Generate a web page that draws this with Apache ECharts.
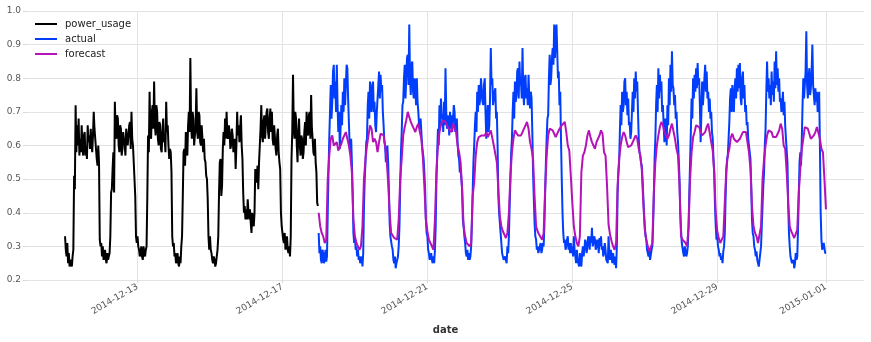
<!DOCTYPE html>
<html>
<head>
<meta charset="utf-8">
<script src="https://cdn.jsdelivr.net/npm/echarts@6/dist/echarts.min.js"></script>
<style>
  html, body { margin: 0; padding: 0; background: #fff; }
  #chart { width: 871px; height: 342px; }
</style>
</head>
<body>
<div id="chart"></div>
<script>
// Power usage: half-hourly history and actuals, hourly forecast.
const trainStart = '2014-12-11T00:00:00Z';
const testStart = '2014-12-18T00:00:00Z';

// 2014-12-11 .. 2014-12-17, half-hourly, one day per 4 lines
const powerUsage = [
  0.33,0.29, 0.27,0.31, 0.25,0.28, 0.24,0.26, 0.26,0.24, 0.27,0.29,
  0.51,0.47, 0.72,0.58, 0.66,0.60, 0.68,0.57, 0.62,0.58, 0.66,0.60,
  0.57,0.63, 0.64,0.57, 0.60,0.56, 0.66,0.61, 0.63,0.59, 0.65,0.61,
  0.58,0.63, 0.70,0.65, 0.62,0.59, 0.56,0.54, 0.60,0.55, 0.32,0.30,

  0.31,0.27, 0.30,0.26, 0.27,0.29, 0.26,0.25, 0.28,0.26, 0.26,0.28,
  0.33,0.46, 0.47,0.53, 0.58,0.46, 0.73,0.64, 0.62,0.69, 0.68,0.60,
  0.58,0.66, 0.65,0.57, 0.59,0.64, 0.64,0.60, 0.57,0.65, 0.65,0.60,
  0.60,0.66, 0.67,0.59, 0.70,0.62, 0.60,0.55, 0.55,0.45, 0.33,0.31,

  0.33,0.30, 0.29,0.27, 0.28,0.30, 0.27,0.26, 0.30,0.28, 0.27,0.29,
  0.30,0.45, 0.63,0.58, 0.76,0.64, 0.62,0.70, 0.72,0.65, 0.79,0.66,
  0.63,0.72, 0.70,0.62, 0.60,0.67, 0.66,0.59, 0.58,0.64, 0.68,0.61,
  0.62,0.58, 0.73,0.64, 0.66,0.60, 0.56,0.59, 0.58,0.52, 0.33,0.30,

  0.31,0.27, 0.28,0.25, 0.26,0.28, 0.25,0.24, 0.27,0.25, 0.30,0.33,
  0.45,0.58, 0.59,0.54, 0.64,0.58, 0.57,0.66, 0.70,0.64, 0.86,0.66,
  0.62,0.70, 0.68,0.60, 0.60,0.66, 0.77,0.64, 0.62,0.70, 0.69,0.61,
  0.60,0.66, 0.66,0.58, 0.62,0.56, 0.55,0.51, 0.50,0.44, 0.33,0.29,

  0.33,0.29, 0.28,0.26, 0.25,0.27, 0.26,0.24, 0.25,0.27, 0.29,0.33,
  0.46,0.55, 0.56,0.45, 0.48,0.59, 0.64,0.60, 0.68,0.62, 0.70,0.63,
  0.62,0.66, 0.64,0.59, 0.60,0.65, 0.63,0.58, 0.58,0.62, 0.53,0.60,
  0.70,0.63, 0.66,0.61, 0.65,0.69, 0.60,0.56, 0.46,0.40, 0.42,0.38,

  0.41,0.38, 0.44,0.40, 0.38,0.41, 0.37,0.34, 0.40,0.37, 0.36,0.40,
  0.53,0.49, 0.50,0.54, 0.47,0.55, 0.60,0.65, 0.72,0.63, 0.61,0.67,
  0.69,0.62, 0.66,0.70, 0.71,0.64, 0.62,0.68, 0.71,0.64, 0.70,0.62,
  0.60,0.66, 0.66,0.59, 0.57,0.63, 0.65,0.58, 0.55,0.53, 0.40,0.36,

  0.36,0.32, 0.31,0.34, 0.29,0.31, 0.33,0.29, 0.28,0.30, 0.27,0.33,
  0.56,0.64, 0.81,0.66, 0.62,0.70, 0.68,0.60, 0.55,0.64, 0.68,0.60,
  0.57,0.63, 0.62,0.56, 0.58,0.64, 0.67,0.60, 0.70,0.64, 0.63,0.69,
  0.70,0.62, 0.75,0.65, 0.62,0.58, 0.57,0.62, 0.55,0.52, 0.43,0.42
];

// 2014-12-18 00:00 .. 2015-01-01 00:00, half-hourly
const actual = [
  0.34,0.28, 0.30,0.26, 0.25,0.29, 0.28,0.25, 0.26,0.29, 0.255,0.27,
  0.40,0.52, 0.62,0.70, 0.78,0.68, 0.73,0.82, 0.84,0.74, 0.79,0.70,
  0.84,0.72, 0.64,0.70, 0.59,0.65, 0.72,0.66, 0.76,0.70, 0.80,0.72,
  0.78,0.84, 0.83,0.74, 0.67,0.60, 0.58,0.62, 0.55,0.46, 0.34,0.31,

  0.33,0.29, 0.30,0.27, 0.29,0.26, 0.27,0.25, 0.25,0.27, 0.24,0.28,
  0.42,0.50, 0.55,0.61, 0.62,0.72, 0.76,0.68, 0.79,0.72, 0.70,0.78,
  0.79,0.70, 0.73,0.66, 0.64,0.70, 0.70,0.78, 0.82,0.74, 0.81,0.76,
  0.78,0.70, 0.66,0.61, 0.60,0.55, 0.57,0.60, 0.55,0.47, 0.37,0.33,

  0.33,0.30, 0.29,0.26, 0.25,0.27, 0.235,0.25, 0.25,0.27, 0.30,0.36,
  0.48,0.58, 0.64,0.72, 0.73,0.80, 0.84,0.74, 0.80,0.86, 0.87,0.78,
  0.96,0.80, 0.75,0.84, 0.85,0.76, 0.74,0.80, 0.78,0.72, 0.80,0.73,
  0.70,0.66, 0.65,0.68, 0.64,0.60, 0.60,0.56, 0.52,0.47, 0.38,0.34,

  0.33,0.29, 0.28,0.26, 0.26,0.28, 0.26,0.25, 0.27,0.25, 0.29,0.36,
  0.50,0.58, 0.65,0.60, 0.72,0.66, 0.74,0.68, 0.69,0.64, 0.73,0.66,
  0.83,0.70, 0.65,0.69, 0.67,0.63, 0.70,0.65, 0.69,0.64, 0.68,0.72,
  0.70,0.64, 0.64,0.68, 0.61,0.57, 0.56,0.52, 0.53,0.50, 0.47,0.38,

  0.36,0.33, 0.31,0.28, 0.27,0.29, 0.26,0.28, 0.26,0.27, 0.30,0.37,
  0.46,0.55, 0.60,0.66, 0.70,0.64, 0.76,0.70, 0.78,0.72, 0.74,0.80,
  0.80,0.73, 0.72,0.78, 0.80,0.70, 0.62,0.68, 0.72,0.64, 0.66,0.74,
  0.89,0.78, 0.80,0.72, 0.72,0.76, 0.77,0.68, 0.70,0.60, 0.45,0.40,

  0.40,0.34, 0.31,0.28, 0.28,0.26, 0.255,0.27, 0.27,0.25, 0.30,0.28,
  0.33,0.42, 0.50,0.58, 0.62,0.70, 0.76,0.68, 0.79,0.73, 0.75,0.82,
  0.83,0.74, 0.85,0.78, 0.79,0.74, 0.89,0.76, 0.72,0.80, 0.81,0.74,
  0.77,0.72, 0.81,0.74, 0.71,0.76, 0.74,0.64, 0.52,0.44, 0.37,0.33,

  0.32,0.29, 0.30,0.28, 0.285,0.30, 0.31,0.28, 0.29,0.31, 0.30,0.36,
  0.46,0.55, 0.62,0.68, 0.69,0.80, 0.87,0.78, 0.80,0.86, 0.89,0.84,
  0.96,0.86, 0.92,0.96, 0.88,0.80, 0.82,0.72, 0.76,0.62, 0.50,0.40,
  0.34,0.31, 0.32,0.29, 0.30,0.32, 0.33,0.29, 0.31,0.28, 0.31,0.28,

  0.30,0.27, 0.33,0.29, 0.27,0.25, 0.29,0.26, 0.25,0.24, 0.28,0.26,
  0.24,0.28, 0.30,0.27, 0.29,0.32, 0.31,0.28, 0.30,0.33, 0.32,0.29,
  0.33,0.31, 0.355,0.30, 0.31,0.33, 0.32,0.29, 0.30,0.32, 0.31,0.28,
  0.325,0.30, 0.33,0.29, 0.30,0.27, 0.28,0.31, 0.29,0.26, 0.265,0.25,

  0.33,0.28, 0.26,0.29, 0.27,0.25, 0.28,0.26, 0.245,0.27, 0.235,0.30,
  0.46,0.52, 0.55,0.64, 0.72,0.66, 0.76,0.70, 0.72,0.79, 0.80,0.72,
  0.76,0.69, 0.74,0.66, 0.67,0.62, 0.64,0.70, 0.76,0.70, 0.80,0.74,
  0.82,0.76, 0.79,0.70, 0.62,0.58, 0.57,0.55, 0.54,0.50, 0.50,0.40,

  0.36,0.33, 0.32,0.29, 0.285,0.27, 0.29,0.26, 0.275,0.29, 0.30,0.36,
  0.45,0.56, 0.62,0.72, 0.78,0.70, 0.83,0.74, 0.81,0.76, 0.79,0.70,
  0.72,0.66, 0.61,0.68, 0.65,0.60, 0.72,0.66, 0.80,0.72, 0.84,0.76,
  0.88,0.78, 0.77,0.72, 0.75,0.68, 0.70,0.64, 0.61,0.56, 0.50,0.40,

  0.35,0.31, 0.31,0.28, 0.27,0.30, 0.30,0.27, 0.28,0.30, 0.36,0.46,
  0.55,0.64, 0.74,0.68, 0.80,0.74, 0.81,0.76, 0.83,0.77, 0.845,0.78,
  0.80,0.72, 0.61,0.70, 0.79,0.72, 0.72,0.80, 0.84,0.76, 0.82,0.74,
  0.76,0.70, 0.74,0.68, 0.70,0.64, 0.62,0.56, 0.52,0.42, 0.36,0.32,

  0.33,0.30, 0.29,0.27, 0.28,0.26, 0.27,0.25, 0.285,0.30, 0.34,0.44,
  0.52,0.56, 0.57,0.62, 0.67,0.74, 0.77,0.70, 0.78,0.72, 0.70,0.77,
  0.80,0.74, 0.83,0.76, 0.84,0.77, 0.845,0.74, 0.72,0.80, 0.82,0.74,
  0.78,0.70, 0.72,0.66, 0.67,0.62, 0.62,0.58, 0.56,0.48, 0.38,0.34,

  0.33,0.30, 0.29,0.27, 0.285,0.26, 0.25,0.24, 0.26,0.28, 0.30,0.36,
  0.42,0.48, 0.52,0.60, 0.65,0.76, 0.85,0.76, 0.80,0.74, 0.78,0.72,
  0.82,0.75, 0.79,0.73, 0.85,0.77, 0.88,0.78, 0.83,0.76, 0.80,0.73,
  0.74,0.70, 0.72,0.76, 0.69,0.73, 0.66,0.62, 0.62,0.55, 0.42,0.34,

  0.30,0.27, 0.265,0.25, 0.245,0.26, 0.235,0.25, 0.28,0.26, 0.27,0.35,
  0.45,0.55, 0.58,0.54, 0.62,0.72, 0.80,0.74, 0.78,0.82, 0.94,0.78,
  0.74,0.80, 0.83,0.75, 0.77,0.82, 0.90,0.78, 0.75,0.72, 0.77,0.73,
  0.76,0.70, 0.72,0.76, 0.60,0.40, 0.32,0.29, 0.285,0.31, 0.31,0.28,

  0.28
];

// 2014-12-18 00:00 .. 2015-01-01 00:00, hourly
const forecast = [
  0.40,0.36,0.34,0.33,0.31,0.32,0.50,0.57,0.62,0.63,0.60,0.595,0.61,0.585,0.595,0.605,0.62,0.63,0.64,0.645,0.60,0.57,0.52,0.38,
  0.33,0.31,0.30,0.29,0.30,0.36,0.50,0.56,0.60,0.63,0.66,0.65,0.61,0.62,0.61,0.58,0.61,0.635,0.64,0.63,0.60,0.56,0.49,0.40,
  0.34,0.335,0.325,0.32,0.32,0.38,0.50,0.56,0.63,0.655,0.675,0.70,0.685,0.67,0.66,0.65,0.64,0.655,0.665,0.64,0.62,0.565,0.48,0.38,
  0.345,0.32,0.31,0.30,0.29,0.38,0.52,0.60,0.64,0.66,0.675,0.68,0.67,0.66,0.65,0.645,0.64,0.665,0.66,0.64,0.60,0.58,0.55,0.47,
  0.36,0.33,0.31,0.305,0.30,0.31,0.45,0.49,0.57,0.61,0.625,0.625,0.63,0.625,0.63,0.64,0.625,0.63,0.645,0.64,0.60,0.575,0.55,0.47,
  0.39,0.36,0.345,0.335,0.325,0.34,0.40,0.51,0.58,0.62,0.645,0.64,0.63,0.625,0.63,0.64,0.65,0.66,0.67,0.65,0.61,0.59,0.56,0.45,
  0.36,0.345,0.335,0.33,0.32,0.34,0.47,0.57,0.63,0.65,0.655,0.645,0.635,0.625,0.63,0.645,0.65,0.66,0.665,0.67,0.64,0.60,0.585,0.51,
  0.43,0.36,0.33,0.31,0.30,0.33,0.52,0.57,0.58,0.60,0.63,0.645,0.625,0.61,0.60,0.59,0.61,0.62,0.63,0.645,0.635,0.58,0.57,0.48,
  0.365,0.335,0.315,0.30,0.29,0.31,0.48,0.56,0.60,0.625,0.64,0.63,0.61,0.595,0.59,0.60,0.61,0.62,0.63,0.62,0.59,0.57,0.53,0.43,
  0.35,0.32,0.30,0.285,0.29,0.31,0.46,0.55,0.60,0.63,0.655,0.67,0.66,0.64,0.63,0.62,0.63,0.65,0.665,0.66,0.62,0.59,0.57,0.48,
  0.33,0.32,0.315,0.31,0.30,0.36,0.50,0.58,0.625,0.64,0.66,0.665,0.655,0.64,0.63,0.625,0.64,0.655,0.665,0.66,0.61,0.585,0.52,0.40,
  0.345,0.325,0.31,0.31,0.33,0.43,0.53,0.57,0.59,0.625,0.635,0.62,0.615,0.61,0.61,0.62,0.63,0.64,0.645,0.64,0.635,0.58,0.53,0.42,
  0.36,0.34,0.33,0.31,0.31,0.36,0.50,0.56,0.60,0.63,0.645,0.65,0.64,0.625,0.62,0.625,0.635,0.645,0.665,0.65,0.60,0.59,0.52,0.43,
  0.36,0.345,0.335,0.325,0.325,0.35,0.46,0.53,0.59,0.62,0.655,0.655,0.65,0.635,0.62,0.625,0.63,0.64,0.655,0.66,0.62,0.59,0.58,0.50,
  0.41
];

const xTickLabels = ['2014-12-13', '2014-12-17', '2014-12-21', '2014-12-25', '2014-12-29', '2015-01-01'];
const yTicks = [0.2, 0.3, 0.4, 0.5, 0.6, 0.7, 0.8, 0.9, 1.0];

const HOUR = 3600 * 1000;
const t0 = Date.parse(trainStart);
const t1 = Date.parse(testStart);
const toPoints = (arr, start, step) => arr.map((v, i) => [start + i * step, v]);
const xTickValues = xTickLabels.map(s => Date.parse(s + 'T00:00:00Z'));

// 5% margin on each side of the full time span
const tEnd = t1 + (forecast.length - 1) * HOUR;
const span = tEnd - t0;
const xMin = t0 - span * 0.05;
const xMax = tEnd + span * 0.05;

const pad = n => String(n).padStart(2, '0');
const fmtDate = ts => {
  const d = new Date(ts);
  return d.getUTCFullYear() + '-' + pad(d.getUTCMonth() + 1) + '-' + pad(d.getUTCDate());
};

const FONT = 'DejaVu Sans';
const GRID = '#e3e3e3';
const LW = 2;
const chart = echarts.init(document.getElementById('chart'), null, { renderer: 'canvas' });

chart.setOption({
  animation: false,
  backgroundColor: '#ffffff',
  textStyle: { fontFamily: FONT },
  grid: { left: 27, right: 7, top: 11, bottom: 62, containLabel: false },
  legend: {
    orient: 'vertical',
    left: 30,
    top: 13,
    icon: 'rect',
    itemWidth: 22,
    itemHeight: 2,
    itemGap: 3,
    textStyle: { fontFamily: FONT, fontSize: 10, lineHeight: 12, color: '#222', padding: [0, 0, 0, 3] },
    data: ['power_usage', 'actual', 'forecast']
  },
  xAxis: {
    type: 'value',
    min: xMin,
    max: xMax,
    name: 'date',
    nameLocation: 'middle',
    nameGap: 45,
    nameTextStyle: { fontFamily: FONT, fontSize: 10, fontWeight: 'bold', color: '#333' },
    axisLine: { show: false },
    axisTick: { show: true, length: 3, lineStyle: { color: '#d8d8d8' }, customValues: xTickValues },
    splitLine: { show: false },
    axisLabel: {
      customValues: xTickValues,
      rotate: 30,
      margin: 6,
      fontFamily: FONT,
      fontSize: 9,
      color: '#555',
      formatter: v => fmtDate(v),
      hideOverlap: false
    }
  },
  yAxis: {
    type: 'value',
    min: yTicks[0],
    max: yTicks[yTicks.length - 1],
    interval: 0.1,
    axisLine: { show: false },
    axisTick: { show: true, length: 4, lineStyle: { color: '#d8d8d8' } },
    splitLine: { show: true, lineStyle: { color: GRID, width: 1 } },
    axisLabel: {
      margin: 6,
      fontFamily: FONT,
      fontSize: 9,
      color: '#555',
      formatter: v => v.toFixed(1)
    }
  },
  series: [
    {
      name: 'power_usage',
      type: 'line',
      data: toPoints(powerUsage, t0, HOUR / 2),
      symbol: 'none',
      color: '#000000',
      lineStyle: { width: LW, color: '#000000' },
      z: 2,
      // vertical date gridlines
      markLine: {
        silent: true,
        symbol: 'none',
        label: { show: false },
        lineStyle: { color: GRID, width: 1, type: 'solid' },
        z: 1,
        data: xTickValues.map(v => ({ xAxis: v }))
      }
    },
    {
      name: 'actual',
      type: 'line',
      data: toPoints(actual, t1, HOUR / 2),
      symbol: 'none',
      color: '#003DFD',
      lineStyle: { width: LW, color: '#003DFD' },
      z: 3
    },
    {
      name: 'forecast',
      type: 'line',
      data: toPoints(forecast, t1, HOUR),
      symbol: 'none',
      color: '#b512b8',
      lineStyle: { width: LW, color: '#b512b8' },
      z: 4
    }
  ]
});
</script>
</body>
</html>
